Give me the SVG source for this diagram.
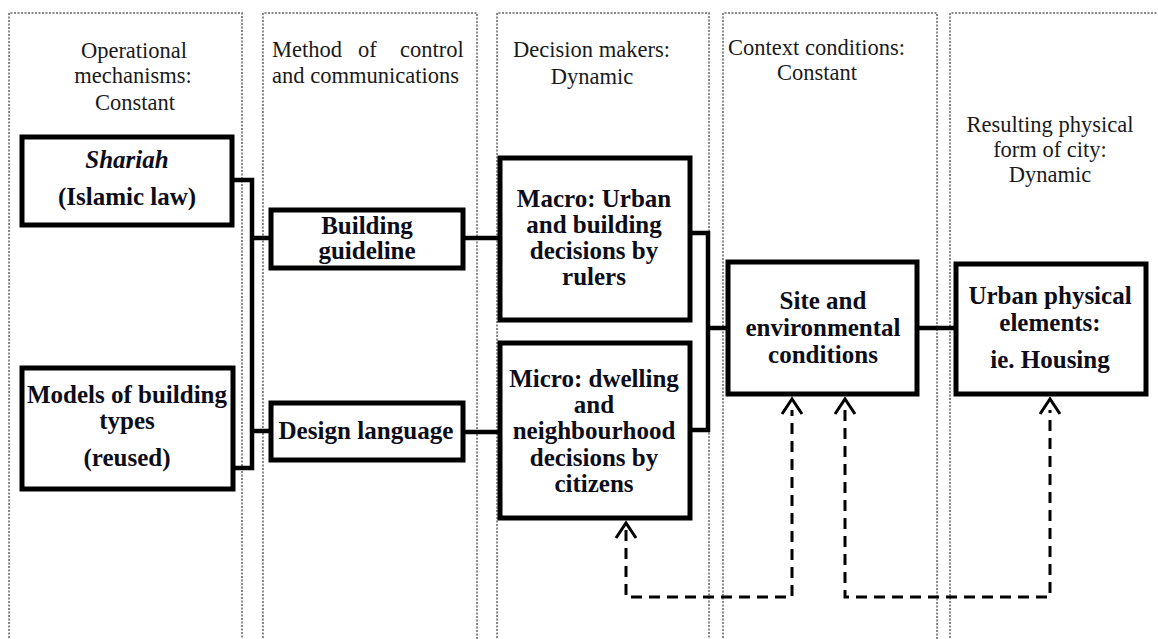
<svg xmlns="http://www.w3.org/2000/svg" width="1158" height="639" viewBox="0 0 1158 639">
<style>
.col{fill:none;stroke:#8a8a8a;stroke-width:2;stroke-dasharray:2 1.5}
.hd{font-family:"Liberation Serif","Times New Roman",serif;font-size:22.5px;fill:#1a1a1a}
.box{fill:#fff;stroke:#000;stroke-width:5}
.nt{font-family:"Liberation Serif","Times New Roman",serif;font-size:25px;font-weight:bold;fill:#0d0d1a;text-anchor:middle}
.ln{fill:none;stroke:#000;stroke-width:4.5}
.dash{fill:none;stroke:#000;stroke-width:3;stroke-dasharray:11 7}
.ah{fill:none;stroke:#000;stroke-width:3}
.c{text-anchor:middle}
</style>
<rect width="1158" height="639" fill="#fff"/>
<g id="columns">
<path class="col" d="M9,645 V13 H242 V645"/>
<path class="col" d="M263,645 V13 H477 V645"/>
<path class="col" d="M497,645 V13 H709 V645"/>
<path class="col" d="M723,645 V13 H937 V645"/>
<path class="col" d="M950,645 V13 H1162"/>
</g>
<g id="headers">
<text class="hd c" x="134" y="58">Operational</text>
<text class="hd c" x="133" y="83">mechanisms:</text>
<text class="hd c" x="135" y="110">Constant</text>
<text class="hd" y="57"><tspan x="272">Method</tspan><tspan x="358">of</tspan><tspan x="400">control</tspan></text>
<text class="hd" x="272" y="83" textLength="187" lengthAdjust="spacingAndGlyphs">and communications</text>
<text class="hd" x="513" y="57" textLength="157" lengthAdjust="spacingAndGlyphs">Decision makers:</text>
<text class="hd c" x="592" y="84">Dynamic</text>
<text class="hd" x="728" y="55" textLength="177" lengthAdjust="spacingAndGlyphs">Context conditions:</text>
<text class="hd c" x="817" y="80">Constant</text>
<text class="hd c" x="1050" y="132">Resulting physical</text>
<text class="hd c" x="1050" y="157">form of city:</text>
<text class="hd c" x="1050" y="182">Dynamic</text>
</g>
<g id="connectors">
<path class="ln" d="M232,180 H252 V468 H234"/>
<path class="ln" d="M252,238 H270"/>
<path class="ln" d="M252,431 H270"/>
<path class="ln" d="M463,238 H499"/>
<path class="ln" d="M463,432 H499"/>
<path class="ln" d="M690,233 H708 V430 H690"/>
<path class="ln" d="M708,328 H727"/>
<path class="ln" d="M917,328 H955"/>
<path class="dash" d="M626,530 V597 H792 V410"/>
<path class="dash" d="M845,410 V597 H1050 V410"/>
<path class="ah" d="M616,538 L626,523 L636,538"/>
<path class="ah" d="M782,414 L792,399 L802,414"/>
<path class="ah" d="M835,414 L845,399 L855,414"/>
<path class="ah" d="M1040,414 L1050,399 L1060,414"/>
</g>
<g id="shariah">
<rect class="box" x="22" y="137" width="210" height="88"/>
<text class="nt" x="127" y="168" font-style="italic">Shariah</text>
<text class="nt" x="127" y="205">(Islamic law)</text>
</g>
<g id="models">
<rect class="box" x="22" y="368" width="211" height="121"/>
<text class="nt" x="127" y="403">Models of building</text>
<text class="nt" x="127" y="429">types</text>
<text class="nt" x="127" y="466">(reused)</text>
</g>
<g id="building-guideline">
<rect class="box" x="271" y="210" width="192" height="58"/>
<text class="nt" x="367" y="234">Building</text>
<text class="nt" x="367" y="259">guideline</text>
</g>
<g id="design-language">
<rect class="box" x="271" y="403" width="192" height="57"/>
<text class="nt" x="366" y="439" textLength="175" lengthAdjust="spacingAndGlyphs">Design language</text>
</g>
<g id="macro">
<rect class="box" x="500" y="158" width="190" height="162"/>
<text class="nt" x="594" y="207">Macro: Urban</text>
<text class="nt" x="594" y="233">and building</text>
<text class="nt" x="594" y="259">decisions by</text>
<text class="nt" x="594" y="285">rulers</text>
</g>
<g id="micro">
<rect class="box" x="500" y="343" width="190" height="175"/>
<text class="nt" x="594" y="387">Micro: dwelling</text>
<text class="nt" x="594" y="413">and</text>
<text class="nt" x="594" y="439">neighbourhood</text>
<text class="nt" x="594" y="466">decisions by</text>
<text class="nt" x="594" y="492">citizens</text>
</g>
<g id="site">
<rect class="box" x="728" y="262" width="189" height="132"/>
<text class="nt" x="823" y="309">Site and</text>
<text class="nt" x="823" y="336">environmental</text>
<text class="nt" x="823" y="363">conditions</text>
</g>
<g id="urban">
<rect class="box" x="956" y="264" width="190" height="130"/>
<text class="nt" x="1050" y="304">Urban physical</text>
<text class="nt" x="1050" y="331">elements:</text>
<text class="nt" x="1050" y="368">ie. Housing</text>
</g>
</svg>
